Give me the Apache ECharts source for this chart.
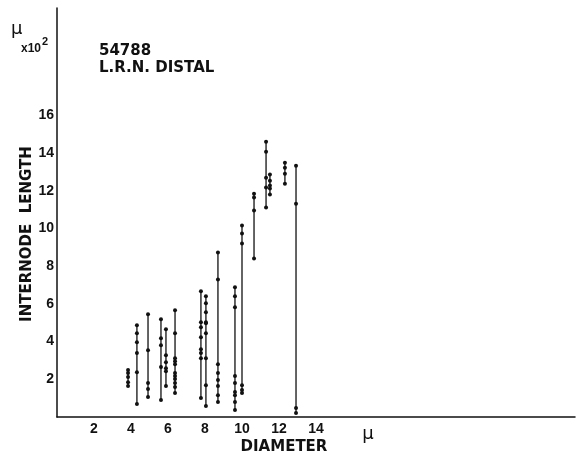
<!DOCTYPE html>
<html>
<head>
<meta charset="utf-8">
<script src="https://cdn.jsdelivr.net/npm/echarts@6/dist/echarts.min.js"></script>
<style>
  html, body { margin: 0; padding: 0; background: #fff; }
  #chart { width: 578px; height: 464px; }
</style>
</head>
<body>
<div id="chart"></div>
<script>
  // fibre diameter (u) of each measured column
  var diameters = [3.84, 4.32, 4.92, 5.62, 5.89, 6.38, 7.78, 8.05, 8.70, 9.62, 10.0, 10.65, 11.3, 11.51, 12.32, 12.92];

  // internode lengths (u x 10^2) along each column, top to bottom
  var lengths = [
    [2.49, 2.33, 2.12, 1.85, 1.64],
    [4.87, 4.44, 3.97, 3.39, 2.38, 0.69],
    [5.45, 3.54, 1.80, 1.48, 1.06],
    [5.19, 4.18, 3.81, 2.65, 0.90],
    [4.66, 3.28, 2.91, 2.59, 2.43, 1.64],
    [5.66, 4.44, 3.12, 2.96, 2.80, 2.33, 2.17, 2.01, 1.80, 1.59, 1.27],
    [6.67, 5.03, 4.76, 4.23, 3.60, 3.39, 3.12, 1.01],
    [6.40, 6.03, 5.56, 5.03, 4.97, 4.44, 3.12, 1.69, 0.58],
    [8.73, 7.30, 2.80, 2.33, 1.96, 1.64, 1.16, 0.79],
    [6.88, 6.40, 5.82, 2.17, 1.80, 1.32, 1.16, 0.79, 0.37],
    [10.16, 9.74, 9.21, 1.69, 1.43, 1.27],
    [11.85, 11.64, 10.95, 8.41],
    [14.60, 14.07, 12.70, 12.17, 11.11],
    [12.86, 12.54, 12.28, 12.12, 11.80],
    [13.49, 13.23, 12.91, 12.38],
    [13.33, 11.32, 0.48, 0.21]
  ];

  // tick labels that are printed on the axes
  var xTickLabels = [2, 4, 6, 8, 10, 12, 14];
  var yTickLabels = [2, 4, 6, 8, 10, 12, 14, 16];

  var ink = '#111';
  var tickFont = 'Liberation Sans';

  var series = [];
  for (var i = 0; i < diameters.length; i++) {
    var pts = [];
    for (var j = 0; j < lengths[i].length; j++) {
      pts.push([diameters[i], lengths[i][j]]);
    }
    series.push({
      type: 'line',
      data: pts,
      symbol: 'circle',
      symbolSize: 4,
      silent: true,
      lineStyle: { color: ink, width: 1.3 },
      itemStyle: { color: ink }
    });
  }

  var option = {
    animation: false,
    backgroundColor: '#fff',
    grid: { left: 57, right: 3, top: 8, bottom: 47 },
    xAxis: {
      type: 'value',
      min: 0,
      max: 28,
      interval: 2,
      splitLine: { show: false },
      axisTick: { show: false },
      axisLine: { lineStyle: { color: ink, width: 1.5 } },
      axisLabel: {
        margin: 5,
        color: ink,
        fontFamily: tickFont,
        fontWeight: 'bold',
        fontSize: 14,
        formatter: function (v) { return xTickLabels.indexOf(v) > -1 ? String(v) : ''; }
      }
    },
    yAxis: {
      type: 'value',
      min: 0,
      max: 21.7,
      interval: 2,
      splitLine: { show: false },
      axisTick: { show: false },
      axisLine: { lineStyle: { color: ink, width: 1.5 } },
      axisLabel: {
        margin: 3,
        color: ink,
        fontFamily: tickFont,
        fontWeight: 'bold',
        fontSize: 14,
        showMaxLabel: false,
        formatter: function (v) { return yTickLabels.indexOf(v) > -1 ? String(v) : ''; }
      }
    },
    graphic: [
      // unit at top of y axis
      { type: 'text', left: 11, top: 20, style: { text: 'μ', font: '18px "DejaVu Sans"', fill: ink } },
      { type: 'text', left: 21, top: 43, style: { text: 'x10', font: 'bold 12px "Liberation Sans"', fill: ink } },
      { type: 'text', left: 42, top: 36, style: { text: '2', font: 'bold 11px "Liberation Sans"', fill: ink } },
      // specimen label
      { type: 'text', left: 99, top: 44, style: { text: '54788', font: 'bold 15px "DejaVu Sans"', fill: ink } },
      { type: 'text', left: 99, top: 61, style: { text: 'L.R.N. DISTAL', font: 'bold 15px "DejaVu Sans"', fill: ink } },
      // axis names
      {
        type: 'text', x: 27, y: 234, rotation: Math.PI / 2,
        style: { text: 'INTERNODE  LENGTH', font: 'bold 15px "DejaVu Sans"', fill: ink, align: 'center', verticalAlign: 'middle' }
      },
      { type: 'text', x: 284, y: 447, style: { text: 'DIAMETER', font: 'bold 15px "DejaVu Sans"', fill: ink, align: 'center', verticalAlign: 'middle' } },
      { type: 'text', x: 368, y: 434, style: { text: 'μ', font: '18px "DejaVu Sans"', fill: ink, align: 'center', verticalAlign: 'middle' } }
    ],
    series: series
  };

  var chart = echarts.init(document.getElementById('chart'), null, { renderer: 'canvas' });
  chart.setOption(option);
</script>
</body>
</html>
